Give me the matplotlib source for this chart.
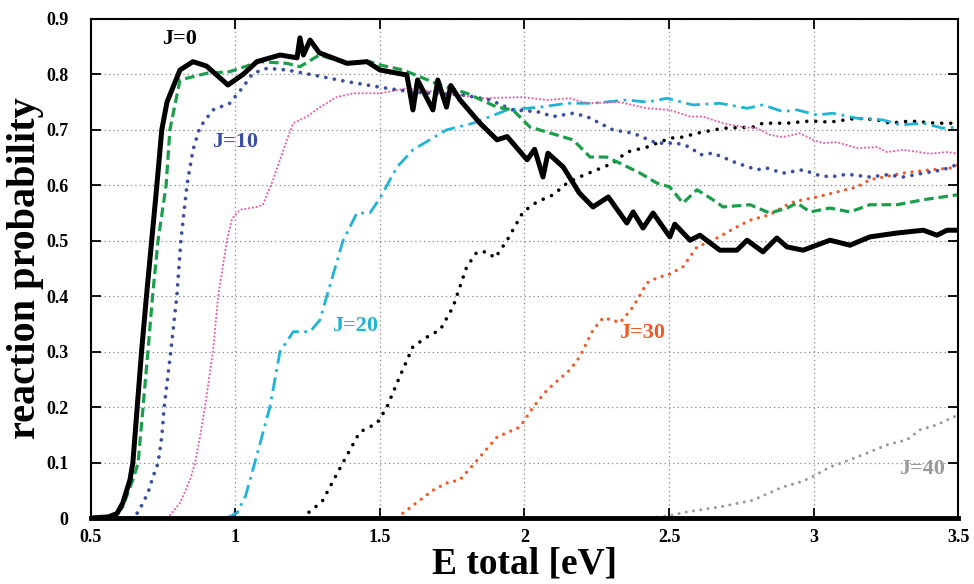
import matplotlib
matplotlib.use("Agg")
import matplotlib.pyplot as plt

plt.rcParams["font.family"] = ["Liberation Serif", "DejaVu Serif"]
plt.rcParams["font.weight"] = "bold"

# (energy, probability) per partial wave
j0_x = [0.50, 0.56, 0.59, 0.61, 0.635, 0.645, 0.66, 0.675, 0.692, 0.71, 0.728, 0.745, 0.763,
        0.808, 0.853, 0.90, 0.974, 1.026, 1.074, 1.154, 1.213, 1.223, 1.235, 1.258, 1.29, 1.386,
        1.455, 1.50, 1.593, 1.614, 1.63, 1.683, 1.70, 1.73, 1.745, 1.777, 1.846, 1.905, 1.94,
        2.009, 2.035, 2.064, 2.081, 2.134, 2.19, 2.237, 2.29, 2.354, 2.376, 2.41, 2.445, 2.503,
        2.52, 2.573, 2.607, 2.676, 2.735, 2.77, 2.825, 2.873, 2.908, 2.964, 3.057, 3.126,
        3.195, 3.289, 3.38, 3.427, 3.462, 3.50]
j0_y = [0.0, 0.002, 0.008, 0.027, 0.069, 0.10, 0.20, 0.30, 0.40, 0.50, 0.60, 0.70, 0.75,
        0.808, 0.823, 0.815, 0.781, 0.80, 0.823, 0.835, 0.83, 0.866, 0.835, 0.862, 0.839, 0.82,
        0.823, 0.808, 0.799, 0.736, 0.79, 0.736, 0.79, 0.741, 0.78, 0.754, 0.712, 0.682, 0.688,
        0.646, 0.665, 0.615, 0.658, 0.633, 0.586, 0.561, 0.579, 0.532, 0.552, 0.523, 0.55, 0.507,
        0.53, 0.501, 0.51, 0.483, 0.483, 0.501, 0.48, 0.505, 0.489, 0.483, 0.501, 0.492,
        0.507, 0.514, 0.519, 0.51, 0.519, 0.519]

j5_x = [0.50, 0.577, 0.61, 0.645, 0.663, 0.68, 0.697, 0.713, 0.732, 0.76, 0.773, 0.808, 0.90,
        0.98, 1.085, 1.178, 1.223, 1.29, 1.386, 1.465, 1.50, 1.58, 1.708, 1.80, 1.905, 1.96,
        2.019, 2.078, 2.168, 2.227, 2.284, 2.33, 2.40, 2.458, 2.503, 2.548, 2.597, 2.652, 2.687,
        2.78, 2.849, 2.908, 2.943, 2.988, 3.057, 3.126, 3.195, 3.289, 3.38, 3.50]
j5_y = [0.0, 0.0, 0.02, 0.069, 0.099, 0.199, 0.30, 0.40, 0.50, 0.60, 0.70, 0.79, 0.802,
        0.805, 0.823, 0.82, 0.814, 0.835, 0.82, 0.823, 0.817, 0.808, 0.781, 0.766, 0.741, 0.736,
        0.705, 0.696, 0.682, 0.651, 0.651, 0.64, 0.622, 0.604, 0.597, 0.568, 0.592, 0.574, 0.561,
        0.565, 0.55, 0.559, 0.568, 0.552, 0.559, 0.552, 0.565, 0.565, 0.574, 0.583]

j10_x = [0.635, 0.663, 0.697, 0.715, 0.732, 0.745, 0.753, 0.776, 0.797, 0.811, 0.832, 0.853,
         0.877, 0.922, 0.98, 1.026, 1.06, 1.109, 1.178, 1.268, 1.386, 1.50, 1.614, 1.787, 1.88,
         1.96, 2.043, 2.099, 2.168, 2.216, 2.306, 2.376, 2.458, 2.527, 2.573, 2.607, 2.652,
         2.735, 2.804, 2.839, 2.894, 2.964, 3.012, 3.057, 3.116, 3.195, 3.254, 3.31, 3.38,
         3.448, 3.50]
j10_y = [0.0, 0.01, 0.045, 0.075, 0.099, 0.146, 0.199, 0.30, 0.40, 0.50, 0.60, 0.664,
         0.705, 0.736, 0.748, 0.777, 0.802, 0.811, 0.808, 0.799, 0.787, 0.777, 0.768, 0.763, 0.754,
         0.736, 0.733, 0.724, 0.73, 0.724, 0.70, 0.694, 0.676, 0.676, 0.669, 0.655, 0.658,
         0.64, 0.628, 0.631, 0.622, 0.628, 0.619, 0.615, 0.62, 0.615, 0.619, 0.615, 0.622,
         0.628, 0.638]

j15_x = [0.766, 0.808, 0.843, 0.86, 0.877, 0.894, 0.922, 0.94, 0.97, 0.988, 1.016, 1.074,
         1.095, 1.13, 1.178, 1.20, 1.247, 1.292, 1.35, 1.407, 1.50, 1.593, 1.73, 1.846, 1.995,
         2.078, 2.157, 2.216, 2.33, 2.424, 2.503, 2.573, 2.618, 2.687, 2.756, 2.804, 2.849,
         2.894, 2.953, 2.998, 3.033, 3.081, 3.15, 3.22, 3.254, 3.31, 3.403, 3.462, 3.50]
j15_y = [0.0, 0.027, 0.069, 0.099, 0.146, 0.199, 0.30, 0.40, 0.50, 0.54, 0.556, 0.561,
         0.565, 0.61, 0.682, 0.712, 0.724, 0.741, 0.759, 0.766, 0.766, 0.775, 0.766, 0.757, 0.759,
         0.754, 0.757, 0.748, 0.75, 0.739, 0.736, 0.724, 0.724, 0.712, 0.705, 0.703, 0.691,
         0.687, 0.694, 0.682, 0.676, 0.678, 0.667, 0.669, 0.66, 0.664, 0.657, 0.66, 0.657]

j20_x = [0.97, 1.005, 1.035, 1.067, 1.119, 1.154, 1.20, 1.258, 1.292, 1.316, 1.372, 1.42, 1.465,
         1.50, 1.559, 1.614, 1.73, 1.822, 1.94, 2.054, 2.147, 2.237, 2.354, 2.424, 2.493, 2.583,
         2.676, 2.77, 2.825, 2.894, 2.943, 3.012, 3.067, 3.15, 3.24, 3.30, 3.38, 3.448, 3.50]
j20_y = [0.0, 0.009, 0.04, 0.10, 0.20, 0.30, 0.336, 0.336, 0.357, 0.40, 0.50, 0.55, 0.55,
         0.577, 0.633, 0.664, 0.70, 0.712, 0.736, 0.741, 0.748, 0.748, 0.754, 0.75, 0.757, 0.745,
         0.748, 0.739, 0.745, 0.733, 0.736, 0.727, 0.73, 0.721, 0.718, 0.709, 0.712, 0.703, 0.705]

j25_x = [1.23, 1.30, 1.372, 1.43, 1.49, 1.524, 1.57, 1.614, 1.673, 1.708, 1.753, 1.80, 1.836,
         1.87, 1.898, 1.94, 1.995, 2.043, 2.10, 2.147, 2.19, 2.306, 2.354, 2.424, 2.503, 2.548,
         2.597, 2.687, 2.79, 2.825, 2.908, 2.988, 3.057, 3.15, 3.22, 3.265, 3.334, 3.427, 3.50]
j25_y = [0.0, 0.03, 0.10, 0.155, 0.171, 0.20, 0.257, 0.309, 0.33, 0.339, 0.381, 0.453, 0.48,
         0.48, 0.469, 0.501, 0.552, 0.57, 0.583, 0.604, 0.615, 0.64, 0.66, 0.669, 0.685, 0.687,
         0.694, 0.703, 0.705, 0.712, 0.712, 0.716, 0.714, 0.721, 0.718, 0.712, 0.716, 0.712, 0.712]

j30_x = [1.558, 1.62, 1.683, 1.73, 1.777, 1.829, 1.905, 1.984, 2.03, 2.078, 2.157, 2.19,
         2.237, 2.272, 2.306, 2.33, 2.376, 2.424, 2.458, 2.503, 2.548, 2.597, 2.652, 2.735, 2.78,
         2.849, 2.918, 2.964, 3.012, 3.081, 3.15, 3.195, 3.31, 3.403, 3.472, 3.50]
j30_y = [0.0, 0.025, 0.05, 0.063, 0.069, 0.10, 0.146, 0.164, 0.20, 0.231, 0.267, 0.29,
         0.339, 0.361, 0.357, 0.352, 0.381, 0.424, 0.433, 0.44, 0.453, 0.489, 0.501, 0.525, 0.537,
         0.547, 0.568, 0.574, 0.579, 0.588, 0.597, 0.61, 0.622, 0.628, 0.631, 0.637]

j40_x = [2.434, 2.50, 2.562, 2.676, 2.79, 2.894, 2.943, 2.988, 3.057, 3.126, 3.195, 3.254,
         3.323, 3.368, 3.427, 3.483, 3.50]
j40_y = [0.0, 0.004, 0.011, 0.02, 0.032, 0.056, 0.063, 0.072, 0.092, 0.105, 0.119, 0.132,
         0.141, 0.159, 0.168, 0.182, 0.185]

labels = ["J=0", "J=10", "J=20", "J=30", "J=40"]
label_x = [0.808, 1.0, 1.413, 2.407, 3.376]
label_y = [0.863, 0.678, 0.346, 0.334, 0.088]

black = "#000000"
green = "#1a9e4a"
blue = "#3a4ea6"
pink = "#ea5fa5"
cyan = "#1fb3d6"
orange = "#f05a28"
gray = "#9a9a9a"
label_colors = [black, blue, cyan, orange, gray]


def dots(gap):
    return (0, (0.01, gap))


fig = plt.figure(figsize=(9.74, 5.84), dpi=100)
ax = fig.add_axes([0.0934, 0.113, 0.8902, 0.8545])

ax.plot(j40_x, j40_y, color=gray, lw=2.2, ls=dots(2.4), dash_capstyle="round")
ax.plot(j30_x, j30_y, color=orange, lw=2.4, ls=dots(2.3), dash_capstyle="round")
ax.plot(j25_x, j25_y, color=black, lw=2.6, ls=dots(2.5), dash_capstyle="round")
ax.plot(j20_x, j20_y, color=cyan, lw=2.0, ls=(0, (5, 2, 1, 2)))
ax.plot(j15_x, j15_y, color=pink, lw=1.6, ls=dots(1.7), dash_capstyle="round")
ax.plot(j10_x, j10_y, color=blue, lw=2.7, ls=dots(2.3), dash_capstyle="round")
ax.plot(j5_x, j5_y, color=green, lw=2.3, ls=(0, (3, 1.5)))
ax.plot(j0_x, j0_y, color=black, lw=3.6, solid_joinstyle="round")

for txt, tx, ty, c in zip(labels, label_x, label_y, label_colors):
    ax.text(tx, ty, txt, color=c, fontsize=16, fontweight="bold", ha="center", va="center")

ax.set_xlim(0.5, 3.5)
ax.set_ylim(0, 0.9)
ax.set_xticks([0.5, 1, 1.5, 2, 2.5, 3, 3.5])
ax.set_xticklabels(["0.5", "1", "1.5", "2", "2.5", "3", "3.5"])
ax.set_yticks([0, 0.1, 0.2, 0.3, 0.4, 0.5, 0.6, 0.7, 0.8, 0.9])
ax.set_yticklabels(["0", "0.1", "0.2", "0.3", "0.4", "0.5", "0.6", "0.7", "0.8", "0.9"])
ax.tick_params(direction="in", length=7, width=1.3, top=True, right=True, labelsize=13)
ax.tick_params(axis="x", pad=8)
ax.tick_params(axis="y", pad=16)
ax.grid(True, color="#888888", ls=(0, (1, 2.5)), lw=0.9)

for s in ax.spines.values():
    s.set_linewidth(1.5)
ax.spines["bottom"].set_linewidth(3.5)

ax.set_xlabel("E total [eV]", fontsize=27, fontweight="bold", labelpad=0)
ax.set_ylabel("reaction probability", fontsize=29, fontweight="bold", labelpad=2)

fig.savefig("out.png", dpi=100)
